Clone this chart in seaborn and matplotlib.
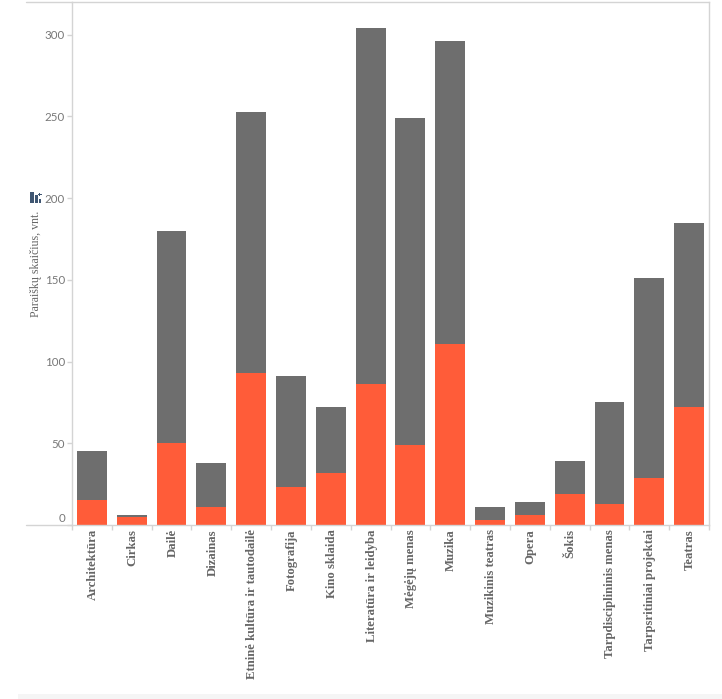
import matplotlib
matplotlib.use("Agg")
import matplotlib.pyplot as plt
import matplotlib.transforms as mtrans
from matplotlib.lines import Line2D
from matplotlib.patches import Rectangle
import pandas as pd
import seaborn as sns

categories = ["Architektūra", "Cirkas", "Dailė", "Dizainas", "Etninė kultūra ir tautodailė",
              "Fotografija", "Kino sklaida", "Literatūra ir leidyba", "Mėgėjų menas", "Muzika",
              "Muzikinis teatras", "Opera", "Šokis", "Tarpdisciplininis menas",
              "Tarpsritiniai projektai", "Teatras"]
total_values = [45, 6, 180, 38, 253, 91, 72, 304, 249, 296, 11, 14, 39, 75, 151, 185]
funded_values = [15, 5, 50, 11, 93, 23, 32, 86, 49, 111, 3, 6, 19, 13, 29, 72]
y_ticks = [0, 50, 100, 150, 200, 250, 300]
y_label = "Paraiškų skaičius, vnt."

W, H = 722, 699
GRID = "#d4d4d4"
GREY = "#6e6e6e"
RED = "#ff5c39"
AX_L, AX_R, AX_T, AX_B = 72, 709, 2, 525

sns.set_theme(style="white")
plt.rcParams["font.family"] = ["Liberation Serif", "DejaVu Serif"]

df = pd.DataFrame({"cat": categories, "total": total_values, "funded": funded_values})

fig = plt.figure(figsize=(W / 100, H / 100), dpi=100)
ax = fig.add_axes([AX_L / W, 1 - AX_B / H, (AX_R - AX_L) / W, (AX_B - AX_T) / H])

sns.barplot(data=df, x="cat", y="total", color=GREY, saturation=1, width=0.75, linewidth=0, ax=ax)
sns.barplot(data=df, x="cat", y="funded", color=RED, saturation=1, width=0.75, linewidth=0, ax=ax)

ax.set_xlim(-0.5, len(categories) - 0.5)
ax.set_ylim(0, 320)
ax.set_xlabel("")
ax.set_ylabel("")

for s in ax.spines.values():
    s.set_color(GRID)
    s.set_linewidth(1)

# ticks between the bars
ax.set_xticks([i - 0.5 for i in range(len(categories) + 1)], minor=True)
ax.tick_params(axis="x", which="minor", bottom=True, length=3.5, width=1, color=GRID)
ax.set_xticks(range(len(categories)))
ax.set_xticklabels(categories, rotation=90, fontsize=9.2, fontweight="bold", color="#666666")
ax.tick_params(axis="x", which="major", bottom=False, length=0, pad=3)
nudge = mtrans.ScaledTranslation(1 / 100, 0, fig.dpi_scale_trans)
for t in ax.get_xticklabels():
    t.set_va("top")
    t.set_transform(t.get_transform() + nudge)

ax.set_yticks(y_ticks)
ax.set_yticklabels(y_ticks, fontsize=8.3, color="#777777", family=["Lato", "DejaVu Sans"])
ax.tick_params(axis="y", left=True, length=3.5, width=1, color=GRID, pad=1.5)
# zero label sits above its tick
ax.get_yticklabels()[0].set_transform(
    ax.get_yticklabels()[0].get_transform() + mtrans.ScaledTranslation(0, 7 / 100, fig.dpi_scale_trans))

# frame lines run past the axis to the left
for y in (AX_T, AX_B):
    fig.add_artist(Line2D([26 / W, AX_L / W], [1 - y / H, 1 - y / H], color=GRID, lw=1))

fig.text(36 / W, 1 - 264 / H, y_label, rotation=90, ha="center", va="center",
         fontsize=8.6, color="#666666")

# small chart icon above the axis title
icon = "#3f5672"
for x0, y0, w, h in [(30, 192.5, 3.5, 10.5), (35, 195.5, 2.5, 7.5), (38.5, 199.5, 2.5, 3.5)]:
    fig.add_artist(Rectangle((x0 / W, 1 - (y0 + h) / H), w / W, h / H, color=icon, lw=0))
fig.add_artist(Rectangle((38 / W, 1 - 194.5 / H), 3.5 / W, 1 / H, color=icon, lw=0))
fig.add_artist(Rectangle((39.2 / W, 1 - 196 / H), 1 / W, 3.5 / H, color=icon, lw=0))

# pale strip along the bottom edge
fig.add_artist(Rectangle((18 / W, 0), (W - 18) / W, 5 / H, color="#f5f5f5", lw=0))

fig.savefig("out.png", dpi=100)
